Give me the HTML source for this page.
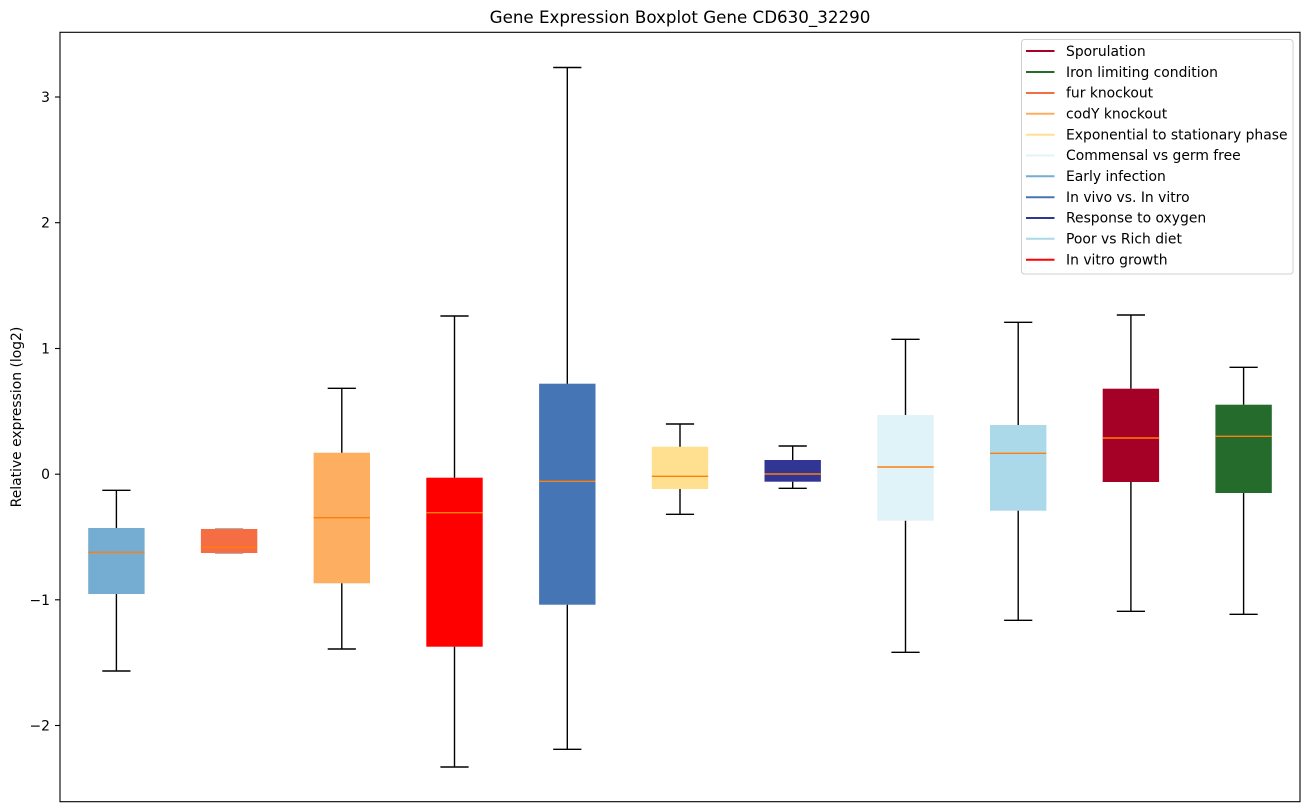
<!DOCTYPE html>
<html>
<head>
<meta charset="utf-8">
<style>
html,body{margin:0;padding:0;background:#fff;}
svg{display:block;}
text{font-family:"DejaVu Sans","Liberation Sans",sans-serif;fill:#000;}
</style>
</head>
<body>
<svg width="1309" height="812" viewBox="0 0 1309 812" xmlns="http://www.w3.org/2000/svg">
<rect width="1309" height="812" fill="#fff"/>
<!-- title -->
<text x="680" y="23" font-size="16.7" text-anchor="middle">Gene Expression Boxplot Gene CD630_32290</text>
<!-- y label -->
<text transform="translate(21,417) rotate(-90)" font-size="13.9" text-anchor="middle">Relative expression (log2)</text>
<!-- y ticks -->
<g stroke="#000" stroke-width="1.1">
<line x1="55" y1="97" x2="60" y2="97"/>
<line x1="55" y1="222.7" x2="60" y2="222.7"/>
<line x1="55" y1="348.5" x2="60" y2="348.5"/>
<line x1="55" y1="474.2" x2="60" y2="474.2"/>
<line x1="55" y1="599.8" x2="60" y2="599.8"/>
<line x1="55" y1="725.5" x2="60" y2="725.5"/>
</g>
<g font-size="13.9" text-anchor="end">
<text x="50" y="102">3</text>
<text x="50" y="227.7">2</text>
<text x="50" y="353.5">1</text>
<text x="50" y="479.2">0</text>
<text x="50" y="604.8">−1</text>
<text x="50" y="730.5">−2</text>
</g>

<!-- boxes -->
<g stroke="#000" stroke-width="1.4" fill="none">
<!-- 1 Early infection c=116.4 -->
<rect x="88.2" y="528" width="56.4" height="66" fill="#74add1" stroke="none"/>
<line x1="116.4" y1="528" x2="116.4" y2="490.3"/><line x1="116.4" y1="594" x2="116.4" y2="671"/>
<line x1="102.3" y1="490.3" x2="130.5" y2="490.3"/><line x1="102.3" y1="671" x2="130.5" y2="671"/>
<line x1="88.2" y1="552.3" x2="144.6" y2="552.3" stroke="#ff7f0e"/>

<!-- 2 fur knockout c=229.1 -->
<rect x="200.9" y="529" width="56.4" height="24" fill="#f46d43" stroke="none"/>
<line x1="215" y1="529" x2="243.2" y2="529" stroke="#c8836b"/><line x1="215" y1="553" x2="243.2" y2="553" stroke="#c8836b"/>
<line x1="200.9" y1="547.3" x2="257.3" y2="547.3" stroke="#ff7f0e"/>

<!-- 3 codY c=341.8 -->
<rect x="313.6" y="452.7" width="56.4" height="130.6" fill="#fdae61" stroke="none"/>
<line x1="341.8" y1="452.7" x2="341.8" y2="388.3"/><line x1="341.8" y1="583.3" x2="341.8" y2="649"/>
<line x1="327.7" y1="388.3" x2="355.9" y2="388.3"/><line x1="327.7" y1="649" x2="355.9" y2="649"/>
<line x1="313.6" y1="517.7" x2="370" y2="517.7" stroke="#ff7f0e"/>

<!-- 4 In vitro growth c=454.5 -->
<rect x="426.3" y="477.7" width="56.4" height="169" fill="#ff0000" stroke="none"/>
<line x1="454.5" y1="477.7" x2="454.5" y2="316"/><line x1="454.5" y1="646.7" x2="454.5" y2="767"/>
<line x1="440.4" y1="316" x2="468.6" y2="316"/><line x1="440.4" y1="767" x2="468.6" y2="767"/>
<line x1="426.3" y1="512.7" x2="482.7" y2="512.7" stroke="#ff7f0e"/>

<!-- 5 In vivo c=567.3 -->
<rect x="539.1" y="383.7" width="56.4" height="221" fill="#4575b4" stroke="none"/>
<line x1="567.3" y1="383.7" x2="567.3" y2="67.5"/><line x1="567.3" y1="604.7" x2="567.3" y2="749.3"/>
<line x1="553.2" y1="67.5" x2="581.4" y2="67.5"/><line x1="553.2" y1="749.3" x2="581.4" y2="749.3"/>
<line x1="539.1" y1="481.3" x2="595.5" y2="481.3" stroke="#ff7f0e"/>

<!-- 6 Exponential c=680 -->
<rect x="651.8" y="446.7" width="56.4" height="42.3" fill="#fee090" stroke="none"/>
<line x1="680" y1="446.7" x2="680" y2="424"/><line x1="680" y1="489" x2="680" y2="514.3"/>
<line x1="665.9" y1="424" x2="694.1" y2="424"/><line x1="665.9" y1="514.3" x2="694.1" y2="514.3"/>
<line x1="651.8" y1="476.3" x2="708.2" y2="476.3" stroke="#ff7f0e"/>

<!-- 7 Response to oxygen c=792.7 -->
<rect x="764.5" y="460" width="56.4" height="21.7" fill="#313695" stroke="none"/>
<line x1="792.7" y1="460" x2="792.7" y2="446"/><line x1="792.7" y1="481.7" x2="792.7" y2="488.3"/>
<line x1="778.6" y1="446" x2="806.8" y2="446"/><line x1="778.6" y1="488.3" x2="806.8" y2="488.3"/>
<line x1="764.5" y1="474" x2="820.9" y2="474" stroke="#ff7f0e"/>

<!-- 8 Commensal c=905.5 -->
<rect x="877.3" y="415" width="56.4" height="105.7" fill="#e0f3f8" stroke="none"/>
<line x1="905.5" y1="415" x2="905.5" y2="339.3"/><line x1="905.5" y1="520.7" x2="905.5" y2="652.3"/>
<line x1="891.4" y1="339.3" x2="919.6" y2="339.3"/><line x1="891.4" y1="652.3" x2="919.6" y2="652.3"/>
<line x1="877.3" y1="467" x2="933.7" y2="467" stroke="#ff7f0e"/>

<!-- 9 Poor vs Rich c=1018.2 -->
<rect x="990" y="425" width="56.4" height="85.7" fill="#abd9e9" stroke="none"/>
<line x1="1018.2" y1="425" x2="1018.2" y2="322.3"/><line x1="1018.2" y1="510.7" x2="1018.2" y2="620.3"/>
<line x1="1004.1" y1="322.3" x2="1032.3" y2="322.3"/><line x1="1004.1" y1="620.3" x2="1032.3" y2="620.3"/>
<line x1="990" y1="453.3" x2="1046.4" y2="453.3" stroke="#ff7f0e"/>

<!-- 10 Sporulation c=1130.9 -->
<rect x="1102.7" y="388.7" width="56.4" height="93.3" fill="#a50026" stroke="none"/>
<line x1="1130.9" y1="388.7" x2="1130.9" y2="315"/><line x1="1130.9" y1="482" x2="1130.9" y2="611.3"/>
<line x1="1116.8" y1="315" x2="1145" y2="315"/><line x1="1116.8" y1="611.3" x2="1145" y2="611.3"/>
<line x1="1102.7" y1="438" x2="1159.1" y2="438" stroke="#ff7f0e"/>

<!-- 11 Iron c=1243.6 -->
<rect x="1215.4" y="404.7" width="56.4" height="88.3" fill="#246b2c" stroke="none"/>
<line x1="1243.6" y1="404.7" x2="1243.6" y2="367.3"/><line x1="1243.6" y1="493" x2="1243.6" y2="614.3"/>
<line x1="1229.5" y1="367.3" x2="1257.7" y2="367.3"/><line x1="1229.5" y1="614.3" x2="1257.7" y2="614.3"/>
<line x1="1215.4" y1="436.3" x2="1271.8" y2="436.3" stroke="#ff7f0e"/>
</g>

<!-- axes frame -->
<rect x="60" y="32.3" width="1240" height="769.4" fill="none" stroke="#000" stroke-width="1.1"/>

<!-- legend -->
<rect x="1021.5" y="39.5" width="271.5" height="234.5" rx="3" ry="3" fill="#fff" fill-opacity="0.8" stroke="#d0d0d0" stroke-width="1"/>
<g stroke-width="2">
<line x1="1026" y1="51" x2="1054.5" y2="51" stroke="#a50026"/>
<line x1="1026" y1="72" x2="1054.5" y2="72" stroke="#246b2c"/>
<line x1="1026" y1="93" x2="1054.5" y2="93" stroke="#f46d43"/>
<line x1="1026" y1="113.8" x2="1054.5" y2="113.8" stroke="#fdae61"/>
<line x1="1026" y1="134.7" x2="1054.5" y2="134.7" stroke="#fee090"/>
<line x1="1026" y1="155.5" x2="1054.5" y2="155.5" stroke="#e0f3f8"/>
<line x1="1026" y1="176.3" x2="1054.5" y2="176.3" stroke="#74add1"/>
<line x1="1026" y1="197.2" x2="1054.5" y2="197.2" stroke="#4575b4"/>
<line x1="1026" y1="218" x2="1054.5" y2="218" stroke="#313695"/>
<line x1="1026" y1="238.8" x2="1054.5" y2="238.8" stroke="#abd9e9"/>
<line x1="1026" y1="259.7" x2="1054.5" y2="259.7" stroke="#ff0000"/>
</g>
<g font-size="13.9">
<text x="1066" y="56">Sporulation</text>
<text x="1066" y="76.9">Iron limiting condition</text>
<text x="1066" y="97.7">fur knockout</text>
<text x="1066" y="118.5">codY knockout</text>
<text x="1066" y="139.4">Exponential to stationary phase</text>
<text x="1066" y="160.2">Commensal vs germ free</text>
<text x="1066" y="181">Early infection</text>
<text x="1066" y="201.9">In vivo vs. In vitro</text>
<text x="1066" y="222.7">Response to oxygen</text>
<text x="1066" y="243.5">Poor vs Rich diet</text>
<text x="1066" y="264.4">In vitro growth</text>
</g>
</svg>
</body>
</html>
